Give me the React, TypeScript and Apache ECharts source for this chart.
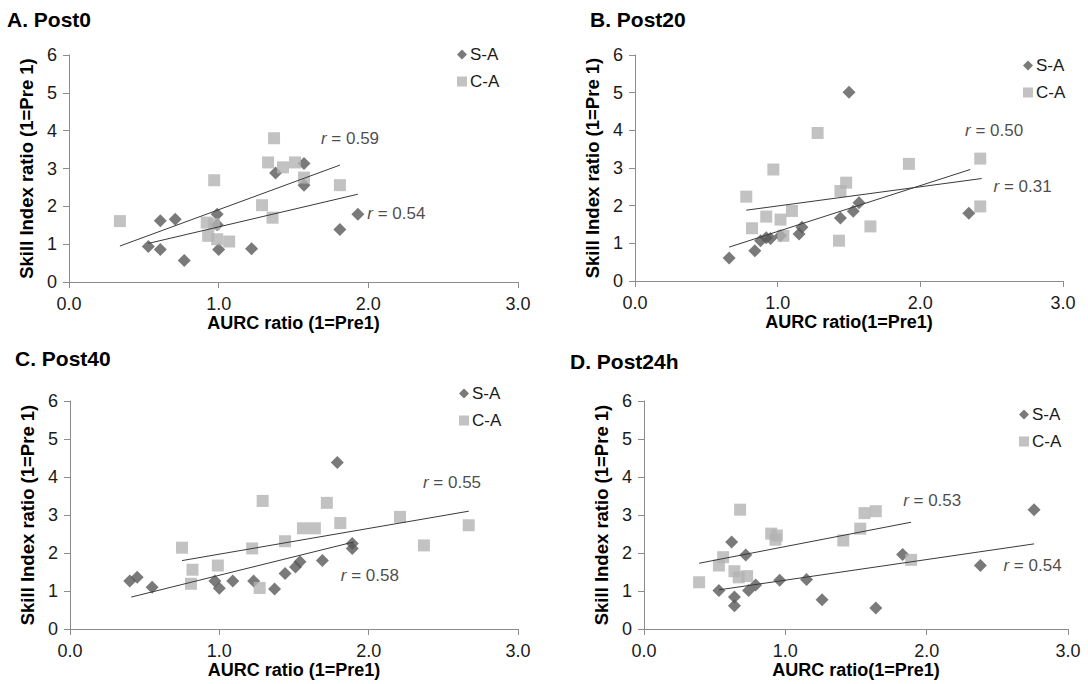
import React, { useEffect, useRef } from "react";
import * as echarts from "echarts";

// ---------- Data ----------
const panelTitles = ["A. Post0", "B. Post20", "C. Post40", "D. Post24h"];
const xAxisTitles = ["AURC ratio (1=Pre1)", "AURC ratio(1=Pre1)", "AURC ratio (1=Pre1)", "AURC ratio(1=Pre1)"];
const yAxisTitle = "Skill Index ratio (1=Pre 1)";
const seriesNames = ["S-A", "C-A"];

// Panel A: Post0
const aSAx = [0.53, 0.61, 0.61, 0.71, 0.77, 0.99, 0.99, 1.0, 1.22, 1.38, 1.57, 1.57, 1.81, 1.93];
const aSAy = [0.94, 0.86, 1.62, 1.66, 0.57, 1.79, 1.51, 0.86, 0.88, 2.88, 3.13, 2.56, 1.39, 1.79];
const aCAx = [0.34, 0.97, 0.92, 0.97, 0.93, 0.99, 1.07, 1.29, 1.36, 1.37, 1.33, 1.43, 1.51, 1.57, 1.81];
const aCAy = [1.61, 2.69, 1.57, 1.53, 1.22, 1.13, 1.07, 2.03, 1.7, 3.8, 3.16, 3.03, 3.16, 2.76, 2.56];
const aTrendSA = [[0.53, 1.02], [1.93, 2.32]];
const aTrendCA = [[0.34, 0.95], [1.81, 3.09]];
const aLabels = [{ x: 1.68, y: 3.8, r: "0.59" }, { x: 1.99, y: 1.82, r: "0.54" }];

// Panel B: Post20
const bSAx = [0.66, 0.84, 0.88, 0.92, 0.95, 1.02, 1.15, 1.17, 1.44, 1.5, 1.53, 1.57, 2.34];
const bSAy = [0.61, 0.8, 1.07, 1.15, 1.13, 1.2, 1.25, 1.43, 1.67, 5.01, 1.85, 2.08, 1.8];
const bCAx = [0.78, 0.82, 0.92, 0.97, 1.02, 1.1, 1.04, 1.28, 1.43, 1.44, 1.48, 1.65, 1.92, 2.42, 2.42];
const bCAy = [2.24, 1.4, 1.71, 2.96, 1.63, 1.86, 1.2, 3.93, 1.07, 2.39, 2.61, 1.45, 3.11, 3.25, 1.98];
const bTrendSA = [[0.66, 0.9], [2.35, 2.96]];
const bTrendCA = [[0.78, 1.88], [2.43, 2.72]];
const bLabels = [{ x: 2.31, y: 4.0, r: "0.50" }, { x: 2.51, y: 2.52, r: "0.31" }];

// Panel C: Post40
const cSAx = [0.4, 0.45, 0.55, 0.97, 1.0, 1.09, 1.23, 1.37, 1.44, 1.51, 1.54, 1.69, 1.79, 1.89, 1.89];
const cSAy = [1.26, 1.36, 1.1, 1.26, 1.07, 1.26, 1.26, 1.05, 1.46, 1.63, 1.77, 1.8, 4.38, 2.25, 2.12];
const cCAx = [0.75, 0.82, 0.81, 0.99, 1.22, 1.27, 1.29, 1.44, 1.56, 1.64, 1.72, 1.81, 2.21, 2.37, 2.67];
const cCAy = [2.14, 1.56, 1.19, 1.67, 2.12, 1.08, 3.37, 2.31, 2.65, 2.65, 3.32, 2.79, 2.95, 2.2, 2.73];
const cTrendSA = [[0.41, 0.84], [1.9, 2.29]];
const cTrendCA = [[0.75, 1.8], [2.67, 3.1]];
const cLabels = [{ x: 2.36, y: 3.85, r: "0.55" }, { x: 1.81, y: 1.42, r: "0.58" }];

// Panel D: Post24h
const dSAx = [0.53, 0.62, 0.64, 0.64, 0.72, 0.74, 0.79, 0.96, 1.15, 1.26, 1.64, 1.83, 2.38, 2.76];
const dSAy = [1.01, 2.29, 0.84, 0.61, 1.95, 1.01, 1.16, 1.28, 1.3, 0.77, 0.55, 1.96, 1.67, 3.14];
const dCAx = [0.39, 0.53, 0.56, 0.64, 0.67, 0.73, 0.68, 0.9, 0.94, 0.93, 1.41, 1.53, 1.56, 1.64, 1.89];
const dCAy = [1.23, 1.67, 1.89, 1.52, 1.36, 1.39, 3.14, 2.51, 2.46, 2.35, 2.33, 2.64, 3.05, 3.1, 1.82];
const dTrendSA = [[0.53, 1.03], [2.76, 2.24]];
const dTrendCA = [[0.39, 1.73], [1.89, 2.81]];
const dLabels = [{ x: 1.83, y: 3.37, r: "0.53" }, { x: 2.54, y: 1.67, r: "0.54" }];

const xTicks = [0, 1, 2, 3];
const yTicks = [0, 1, 2, 3, 4, 5, 6];

// ---------- Layout / style ----------
const FONT = "'Liberation Sans', Arial, Helvetica, sans-serif";
const SA_COLOR = "#595959";
const CA_COLOR = "#b3b3b3";
const LINE_COLOR = "#3a3a3a";
const AXIS_COLOR = "#8c8c8c";

const grids = [
  { left: 69, top: 55, width: 449, height: 227 },
  { left: 635, top: 55, width: 428, height: 226 },
  { left: 70, top: 401, width: 448, height: 228 },
  { left: 644, top: 401, width: 424, height: 228 },
];
const titlePos = [
  { left: 7, top: 9 },
  { left: 590, top: 9 },
  { left: 15, top: 348 },
  { left: 570, top: 351 },
];
const legendPos = [
  { left: 457, top: 46 },
  { left: 1023, top: 57 },
  { left: 459, top: 385 },
  { left: 1019, top: 406 },
];

const zip = (xs: number[], ys: number[]) => xs.map((x, i) => [x, ys[i]]);

const panels = [
  { sa: zip(aSAx, aSAy), ca: zip(aCAx, aCAy), tSA: aTrendSA, tCA: aTrendCA, labels: aLabels },
  { sa: zip(bSAx, bSAy), ca: zip(bCAx, bCAy), tSA: bTrendSA, tCA: bTrendCA, labels: bLabels },
  { sa: zip(cSAx, cSAy), ca: zip(cCAx, cCAy), tSA: cTrendSA, tCA: cTrendCA, labels: cLabels },
  { sa: zip(dSAx, dSAy), ca: zip(dCAx, dCAy), tSA: dTrendSA, tCA: dTrendCA, labels: dLabels },
];

function buildOption() {
  const series: any[] = [];
  panels.forEach((p, i) => {
    series.push({
      name: seriesNames[0],
      type: "scatter",
      xAxisIndex: i,
      yAxisIndex: i,
      symbol: "diamond",
      symbolSize: 13,
      itemStyle: { color: SA_COLOR },
      data: p.sa,
      z: 2,
    });
    series.push({
      name: seriesNames[1],
      type: "scatter",
      xAxisIndex: i,
      yAxisIndex: i,
      symbol: "rect",
      symbolSize: 12,
      itemStyle: { color: CA_COLOR },
      data: p.ca,
      z: 3,
    });
    [p.tSA, p.tCA].forEach((t) => {
      series.push({
        type: "line",
        xAxisIndex: i,
        yAxisIndex: i,
        symbol: "none",
        silent: true,
        lineStyle: { color: LINE_COLOR, width: 1 },
        data: t,
        z: 4,
      });
    });
    series.push({
      type: "scatter",
      xAxisIndex: i,
      yAxisIndex: i,
      symbolSize: 1,
      silent: true,
      itemStyle: { color: "rgba(0,0,0,0)" },
      data: p.labels.map((l) => ({ value: [l.x, l.y], r: l.r })),
      label: {
        show: true,
        position: "right",
        distance: 0,
        fontFamily: FONT,
        fontSize: 17,
        color: "#1a1a1a",
        formatter: (prm: any) => "{i|r} = " + prm.data.r,
        rich: {
          i: { fontStyle: "italic", fontFamily: FONT, fontSize: 17, color: "#1a1a1a" },
        },
      },
      z: 5,
    });
  });

  return {
    animation: false,
    backgroundColor: "#ffffff",
    textStyle: { fontFamily: FONT },
    title: panelTitles.map((t, i) => ({
      text: t,
      left: titlePos[i].left,
      top: titlePos[i].top,
      padding: 0,
      textStyle: { fontFamily: FONT, fontSize: 21, fontWeight: "bold", color: "#000" },
    })),
    legend: legendPos.map((lp) => ({
      orient: "vertical",
      left: lp.left,
      top: lp.top,
      padding: 0,
      itemWidth: 10,
      itemHeight: 10,
      itemGap: 10,
      selectedMode: false,
      textStyle: { fontFamily: FONT, fontSize: 17, color: "#1a1a1a", padding: [0, 0, 0, -2] },
      data: [
        { name: seriesNames[0], icon: "diamond" },
        { name: seriesNames[1], icon: "rect" },
      ],
    })),
    grid: grids.map((g) => ({ ...g, containLabel: false })),
    xAxis: grids.map((_, i) => ({
      type: "value",
      gridIndex: i,
      min: xTicks[0],
      max: xTicks[xTicks.length - 1],
      interval: 1,
      name: xAxisTitles[i],
      nameLocation: "middle",
      nameGap: 30,
      nameTextStyle: { fontFamily: FONT, fontSize: 18, fontWeight: "bold", color: "#000" },
      axisLine: { show: true, lineStyle: { color: AXIS_COLOR, width: 1 } },
      axisTick: { show: true, length: 6, lineStyle: { color: AXIS_COLOR } },
      splitLine: { show: false },
      axisLabel: {
        fontFamily: FONT,
        fontSize: 18,
        color: "#1a1a1a",
        margin: 13,
        formatter: (v: number) => v.toFixed(1),
      },
    })),
    yAxis: grids.map((_, i) => ({
      type: "value",
      gridIndex: i,
      min: yTicks[0],
      max: yTicks[yTicks.length - 1],
      interval: 1,
      name: yAxisTitle,
      nameLocation: "middle",
      nameGap: 33,
      nameTextStyle: { fontFamily: FONT, fontSize: 18.5, fontWeight: "bold", color: "#000" },
      axisLine: { show: true, lineStyle: { color: AXIS_COLOR, width: 1 } },
      axisTick: { show: true, length: 6, lineStyle: { color: AXIS_COLOR } },
      splitLine: { show: false },
      axisLabel: { fontFamily: FONT, fontSize: 18, color: "#1a1a1a", margin: 12 },
    })),
    series,
  };
}

export default function App() {
  const ref = useRef<HTMLDivElement>(null);
  useEffect(() => {
    document.body.style.margin = "0";
    if (!ref.current) return;
    const chart = echarts.init(ref.current, undefined, { renderer: "svg" });
    chart.setOption(buildOption() as any);
    return () => chart.dispose();
  }, []);
  return <div ref={ref} style={{ width: 1088, height: 684, background: "#fff" }} />;
}
